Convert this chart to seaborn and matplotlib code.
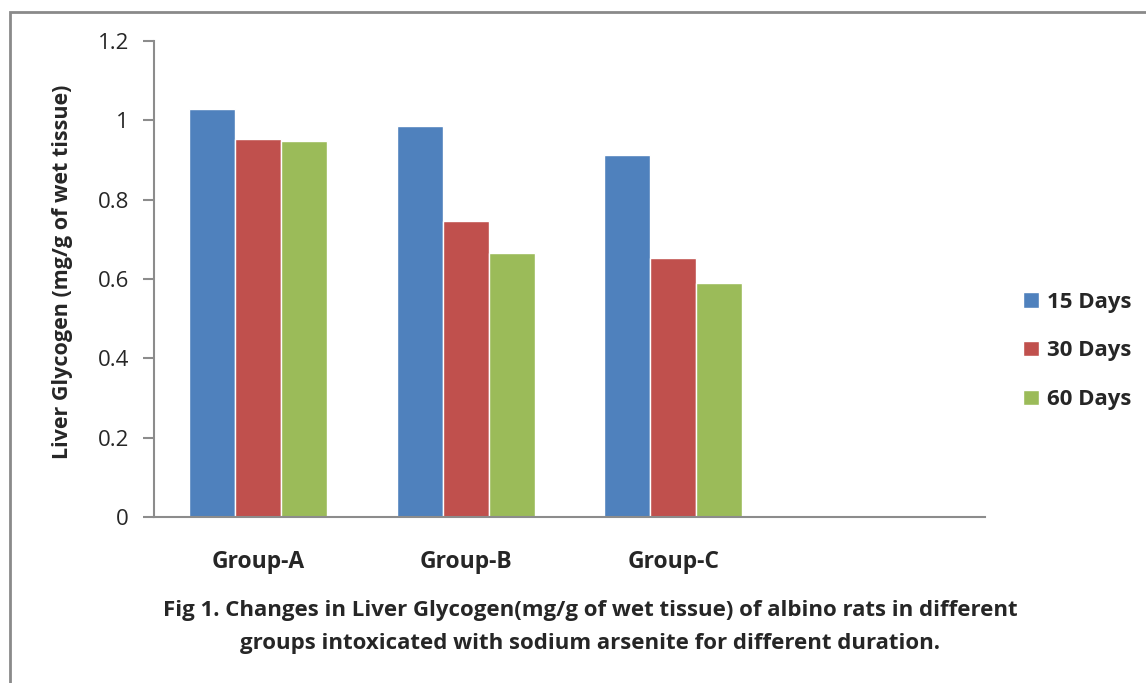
import matplotlib

matplotlib.use("Agg")
import matplotlib.pyplot as plt
import pandas as pd
import seaborn as sns
from matplotlib.patches import Rectangle

# ------------------------------------------------------------------
# data
# ------------------------------------------------------------------
groups = ["Group-A", "Group-B", "Group-C"]
durations = ["15 Days", "30 Days", "60 Days"]
days_15 = [1.028, 0.985, 0.912]
days_30 = [0.953, 0.745, 0.654]
days_60 = [0.948, 0.665, 0.589]
y_ticks = [0, 0.2, 0.4, 0.6, 0.8, 1, 1.2]
y_tick_labels = ["0", "0.2", "0.4", "0.6", "0.8", "1", "1.2"]

rows = []
for dur, vals in zip(durations, [days_15, days_30, days_60]):
    for g, v in zip(groups, vals):
        rows.append({"group": g, "duration": dur, "value": v})
df = pd.DataFrame(rows)

sns.set_theme(style="white")
plt.rcParams["font.family"] = ["Open Sans", "DejaVu Sans"]

fig = plt.figure(figsize=(11.46, 6.83), dpi=100)
ax = fig.add_axes([154 / 1146, 1 - 517 / 683, (985 - 154) / 1146, (517 - 41) / 683])

palette = ["#4F81BD", "#C0504D", "#9BBB59"]
# Excel leaves an empty fourth category slot on the axis
order = groups + [" "]
sns.barplot(
    data=df,
    x="group",
    y="value",
    hue="duration",
    order=order,
    hue_order=durations,
    palette=palette,
    width=0.665,
    saturation=1,
    errorbar=None,
    ax=ax,
)

ax.set_ylim(0, 1.2)
ax.set_xlim(-0.5, 3.5)
ax.set_yticks(y_ticks)
ax.set_yticklabels(y_tick_labels)
ax.set_xlabel("")
ax.set_ylabel(
    "Liver Glycogen (mg/g of wet tissue)",
    fontsize=15.5,
    fontweight="bold",
)
ax.yaxis.set_label_coords(-0.097, 0.515)

for side in ["top", "right"]:
    ax.spines[side].set_visible(False)
for side in ["left", "bottom"]:
    ax.spines[side].set_color("#8c8c8c")
    ax.spines[side].set_linewidth(1.5)

ax.tick_params(axis="y", which="major", length=8, width=1.5, color="#8c8c8c",
               direction="out", labelsize=16, pad=10, left=True)
ax.tick_params(axis="x", length=0, labelsize=16.5, pad=24)
for lbl in ax.get_xticklabels():
    lbl.set_fontweight("bold")

leg = ax.legend(
    loc="center left",
    bbox_to_anchor=(1.022, 0.349),
    frameon=False,
    fontsize=16,
    handlelength=0.7,
    handleheight=0.7,
    handletextpad=0.35,
    labelspacing=1.25,
)
for t in leg.get_texts():
    t.set_fontweight("bold")

fig.text(
    590 / 1146,
    1 - 627 / 683,
    "Fig 1. Changes in Liver Glycogen(mg/g of wet tissue) of albino rats in different\n"
    "groups intoxicated with sodium arsenite for different duration.",
    ha="center",
    va="center",
    fontsize=16,
    fontweight="bold",
    linespacing=1.75,
)

# outer chart frame (cut off at right and bottom)
fig.patches.append(
    Rectangle((10 / 1146, -0.1), 1.2, 1 - 12 / 683 + 0.1, transform=fig.transFigure,
              fill=False, edgecolor="#8a8a8a", linewidth=2, zorder=0)
)

fig.savefig("out.png", dpi=100)
